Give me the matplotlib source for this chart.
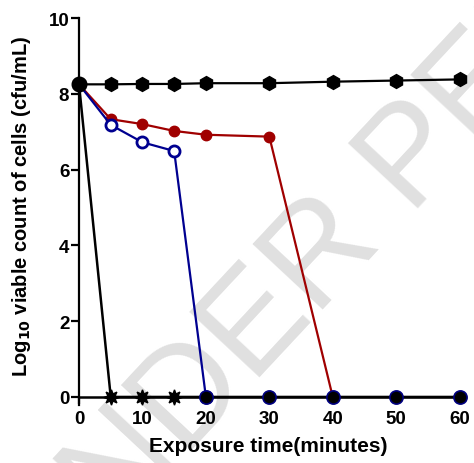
import matplotlib
matplotlib.use("Agg")
import matplotlib.pyplot as plt

times = [0, 5, 10, 15, 20, 30, 40, 50, 60]
control = [8.25, 8.25, 8.26, 8.26, 8.28, 8.28, 8.32, 8.35, 8.38]
red_times = [0, 5, 10, 15, 20, 30, 40]
red_vals = [8.25, 7.33, 7.2, 7.02, 6.92, 6.87, 0]
blue_times = [0, 5, 10, 15, 20]
blue_vals = [8.25, 7.18, 6.72, 6.49, 0]
fast_times = [0, 5, 10, 15, 20, 30, 40, 50, 60]
fast_vals = [8.25, 0, 0, 0, 0, 0, 0, 0, 0]
star_times = [5, 10, 15]
star_vals = [0, 0, 0]
zero_times = [20, 30, 40, 50, 60]
zero_vals = [0, 0, 0, 0, 0]

xticks = [0, 10, 20, 30, 40, 50, 60]
yticks = [0, 2, 4, 6, 8, 10]

plt.rcParams['font.family'] = ['Liberation Sans', 'DejaVu Sans']

fig = plt.figure(figsize=(4.74, 4.64), dpi=100)
# watermark
fig.text(0.100, -0.305, "UNDER PEER REVIEW", rotation=47, rotation_mode='anchor',
         fontsize=100, color='#e0e0e0', ha='left', va='baseline', zorder=-5)

ax = fig.add_axes([0.1667, 0.126, 0.803, 0.833])
ax.set_zorder(2)
ax.patch.set_alpha(0)

ax.plot(times, control, color='black', lw=1.6, marker='h', ms=10, mfc='black', mec='black', clip_on=False, zorder=5)
ax.plot(fast_times, fast_vals, color='black', lw=1.8, marker='none', clip_on=False, zorder=4)
ax.plot(star_times, star_vals, ls='none', marker=(8, 1, 0), ms=11, mfc='black', mec='black', clip_on=False, zorder=6)
ax.plot(red_times, red_vals, color='#a00000', lw=1.6, marker='o', ms=7.5, mfc='#a00000', mec='#a00000', clip_on=False, zorder=5)
ax.plot(blue_times, blue_vals, color='#000090', lw=1.6, marker='o', ms=8, mfc='white', mec='#000090', mew=2, clip_on=False, zorder=6)
ax.plot(zero_times, zero_vals, ls='none', marker='o', ms=9.5, mfc='black', mec='#000080', mew=1.2, clip_on=False, zorder=7)
ax.plot([0], [8.25], ls='none', marker='o', ms=10.5, mfc='black', mec='black', clip_on=False, zorder=8)

ax.set_xlim(0, 60)
ax.set_ylim(-0.2, 10)
ax.spines['top'].set_visible(False)
ax.spines['right'].set_visible(False)
ax.spines['bottom'].set_position(('data', 0))
ax.spines['left'].set_linewidth(1.6)
ax.spines['bottom'].set_linewidth(1.8)
ax.set_xticks(xticks)
ax.set_yticks(yticks)
ax.set_xticklabels([str(t) for t in xticks], fontsize=13.5, fontweight='bold')
ax.set_yticklabels([str(t) for t in yticks], fontsize=13.5, fontweight='bold')
ax.tick_params(axis='x', direction='out', length=5, width=1.6, pad=4.5)
ax.tick_params(axis='y', direction='out', length=6, width=1.6, pad=1)

ax.set_xlabel("Exposure time(minutes)", fontsize=15, fontweight='bold')
ax.xaxis.set_label_coords(0.498, -0.081)
ax.set_ylabel(r"Log$_{\mathbf{10}}$ viable count of cells (cfu/mL)", fontsize=14.5, fontweight='bold')
ax.yaxis.set_label_coords(-0.121, 0.514)

fig.savefig("out.png", dpi=100)
